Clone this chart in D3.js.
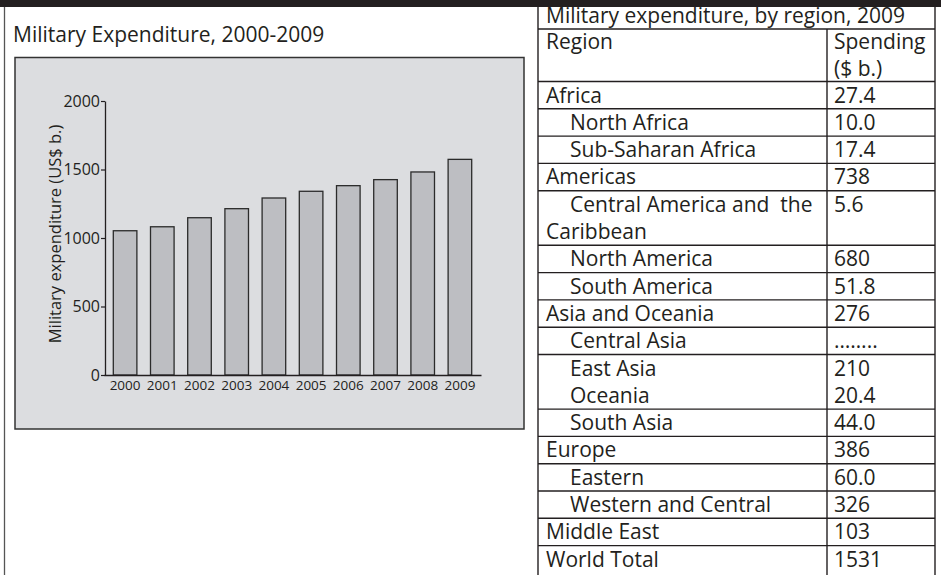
<!DOCTYPE html>
<html>
<head>
<meta charset="utf-8">
<script src="https://cdn.jsdelivr.net/npm/d3@7"></script>
<style>
body { margin: 0; background: #fff; }
text { font-family: "Open Sans", sans-serif; fill: #231f20; }
</style>
</head>
<body>
<svg id="fig" width="941" height="575"></svg>
<script>
// bar chart data
const years = ["2000","2001","2002","2003","2004","2005","2006","2007","2008","2009"];
const expenditure = [1053, 1082, 1148, 1214, 1292, 1341, 1382, 1426, 1482, 1574];
const yTicks = [0, 500, 1000, 1500, 2000];

// table data
const regions = ["Africa","North Africa","Sub-Saharan Africa","Americas",
  "Central America and  the\nCaribbean","North America","South America",
  "Asia and Oceania","Central Asia","East Asia","Oceania","South Asia",
  "Europe","Eastern","Western and Central","Middle East","World Total"];
const spending = ["27.4","10.0","17.4","738","5.6","680","51.8","276","……..",
  "210","20.4","44.0","386","60.0","326","103","1531"];
const isSub = [false,true,true,false,true,true,true,false,true,true,true,true,
  false,true,true,false,false];
const noRuleAbove = ["Oceania"];

const svg = d3.select("#fig");
const ink = "#231f20";

// frame
svg.append("rect").attr("x", 0).attr("y", 0).attr("width", 941).attr("height", 7).attr("fill", ink);
svg.append("line").attr("x1", 4.5).attr("x2", 4.5).attr("y1", 7).attr("y2", 575)
  .attr("stroke", "#555").attr("stroke-width", 1.3);

// ---- left: bar chart ----
svg.append("text").attr("x", 13).attr("y", 42).style("font-size", "21px")
  .text("Military Expenditure, 2000-2009");

svg.append("rect").attr("x", 15).attr("y", 57.5).attr("width", 509).attr("height", 371.5)
  .attr("fill", "#dcdde0").attr("stroke", "#333").attr("stroke-width", 1.5);

const x = d3.scaleBand().domain(years).range([104, 481]).paddingInner(0.366).paddingOuter(0.25);
const y = d3.scaleLinear().domain([0, 2000]).range([375, 101]);

svg.append("g").selectAll("rect")
  .data(years.map((yr, i) => ({yr, v: expenditure[i]})))
  .enter().append("rect")
  .attr("x", d => x(d.yr))
  .attr("y", d => y(d.v))
  .attr("width", x.bandwidth())
  .attr("height", d => y(0) - y(d.v))
  .attr("fill", "#bdbec2")
  .attr("stroke", "#2b2b2b")
  .attr("stroke-width", 1.3);

const yAxis = svg.append("g").attr("transform", "translate(105,0)")
  .call(d3.axisLeft(y).tickValues(yTicks).tickFormat(d3.format("d"))
    .tickSize(4).tickSizeOuter(0).tickPadding(1));
yAxis.selectAll("text").style("font-size", "16px").attr("fill", ink);

const xAxis = svg.append("g").attr("transform", "translate(0,375)")
  .call(d3.axisBottom(x).tickSize(0).tickPadding(5.5));
xAxis.selectAll("text").style("font-size", "13.5px").attr("fill", ink);

[yAxis, xAxis].forEach(g => {
  g.select(".domain").attr("stroke", ink).attr("stroke-width", 1.3);
  g.selectAll(".tick line").attr("stroke", ink).attr("stroke-width", 1.2);
});

svg.append("text")
  .attr("transform", "rotate(-90)")
  .attr("x", -234).attr("y", 61)
  .attr("text-anchor", "middle")
  .style("font-size", "16.5px")
  .text("Military expenditure (US$ b.)");

// ---- right: table ----
const tL = 538, tM = 827, tR = 935, lineH = 27.3, fs = "21px";
const table = svg.append("g");

const hline = (yy) => table.append("line").attr("x1", tL).attr("x2", tR)
  .attr("y1", yy).attr("y2", yy).attr("stroke", ink).attr("stroke-width", 1.4);

table.append("text").attr("x", 546).attr("y", 22.5).style("font-size", fs)
  .text("Military expenditure, by region, 2009");
hline(29);

table.append("text").attr("x", 546).attr("y", 49).style("font-size", fs).text("Region");
table.append("text").attr("x", 834).attr("y", 49).style("font-size", fs).text("Spending");
table.append("text").attr("x", 834).attr("y", 75.5).style("font-size", fs).text("($ b.)");

let rowY = 81.5;
regions.forEach((r, i) => {
  if (!noRuleAbove.includes(r)) hline(rowY);
  const lines = r.split("\n");
  lines.forEach((ln, k) => {
    table.append("text")
      .attr("x", (isSub[i] && k === 0) ? 570 : 546)
      .attr("y", rowY + 21 + k * lineH)
      .attr("xml:space", "preserve")
      .style("font-size", fs)
      .text(ln);
  });
  table.append("text").attr("x", 834).attr("y", rowY + 21).style("font-size", fs).text(spending[i]);
  rowY += lines.length * lineH;
});

[tL, tR].forEach(xx => table.append("line").attr("x1", xx).attr("x2", xx)
  .attr("y1", 7).attr("y2", 575).attr("stroke", ink).attr("stroke-width", 1.4));
table.append("line").attr("x1", tM).attr("x2", tM).attr("y1", 29).attr("y2", 575)
  .attr("stroke", ink).attr("stroke-width", 1.4);
</script>
</body>
</html>
